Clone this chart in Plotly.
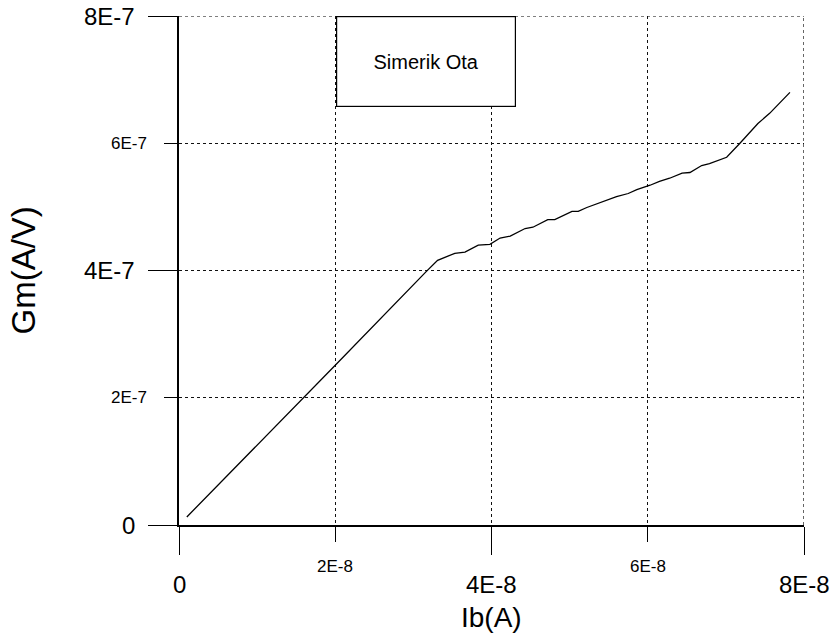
import plotly.graph_objects as go

# Data
ib = [1.0e-9, 1.0e-8, 2.0e-8, 3.17e-8, 3.31e-8, 3.53e-8, 3.66e-8, 3.83e-8, 3.98e-8,
      4.11e-8, 4.24e-8, 4.43e-8, 4.53e-8, 4.72e-8, 4.81e-8, 5.03e-8, 5.11e-8,
      5.22e-8, 5.39e-8, 5.60e-8, 5.75e-8, 5.86e-8, 6.03e-8, 6.15e-8, 6.28e-8,
      6.44e-8, 6.54e-8, 6.69e-8, 6.79e-8, 7.01e-8, 7.18e-8, 7.41e-8, 7.56e-8, 7.82e-8]
gm = [1.26e-8, 1.25e-7, 2.51e-7, 3.99e-7, 4.16e-7, 4.27e-7, 4.29e-7, 4.40e-7, 4.41e-7,
      4.51e-7, 4.54e-7, 4.66e-7, 4.68e-7, 4.80e-7, 4.80e-7, 4.93e-7, 4.93e-7,
      4.99e-7, 5.07e-7, 5.16e-7, 5.21e-7, 5.27e-7, 5.34e-7, 5.40e-7, 5.45e-7,
      5.53e-7, 5.54e-7, 5.65e-7, 5.68e-7, 5.78e-7, 6.00e-7, 6.31e-7, 6.47e-7, 6.80e-7]

x_major = [0, 4e-8, 8e-8]
x_major_text = ["0", "4E-8", "8E-8"]
x_minor = [2e-8, 6e-8]
x_minor_text = ["2E-8", "6E-8"]
y_major = [0, 4e-7, 8e-7]
y_major_text = ["0", "4E-7", "8E-7"]
y_minor = [2e-7, 6e-7]
y_minor_text = ["2E-7", "6E-7"]

legend_text = "Simerik Ota"
x_title = "Ib(A)"
y_title = "Gm(A/V)"

FONT = "Liberation Sans, Arial, sans-serif"
GRID = "#111"

fig = go.Figure()
fig.add_trace(go.Scatter(x=ib, y=gm, mode="lines",
                         line=dict(color="black", width=1.3),
                         showlegend=False, hoverinfo="skip"))

grid = dict(showgrid=True, gridcolor=GRID, gridwidth=1, griddash="dot")
fig.update_xaxes(range=[0, 8e-8], tickmode="array", tickvals=x_major,
                 showticklabels=False, ticks="outside", ticklen=28, tickwidth=1,
                 tickcolor="black", showline=True, linecolor="black", linewidth=1.5,
                 zeroline=False, **grid,
                 minor=dict(tickmode="array", tickvals=x_minor, ticks="outside",
                            ticklen=15, tickwidth=1, tickcolor="black",
                            showgrid=True, gridcolor=GRID, griddash="dot", gridwidth=1))
fig.update_yaxes(range=[0, 8e-7], tickmode="array", tickvals=y_major,
                 showticklabels=False, ticks="outside", ticklen=29, tickwidth=1,
                 tickcolor="black", showline=True, linecolor="black", linewidth=1.5,
                 zeroline=False, **grid,
                 minor=dict(tickmode="array", tickvals=y_minor, ticks="outside",
                            ticklen=13, tickwidth=1, tickcolor="black",
                            showgrid=True, gridcolor=GRID, griddash="dot", gridwidth=1))

# gridlines at the far ends of the axes (top and right), dotted like the grid
shapes = [
    dict(type="line", xref="paper", yref="y", x0=0, x1=1, y0=y_major[-1], y1=y_major[-1],
         line=dict(color="black", width=1.2, dash="dot"), layer="below"),
    dict(type="line", xref="x", yref="paper", x0=x_major[-1], x1=x_major[-1], y0=0, y1=1,
         line=dict(color="black", width=1.2, dash="dot"), layer="below"),
]

ann = []
for v, t in zip(x_major, x_major_text):
    ann.append(dict(x=v, y=0, xref="x", yref="paper", text=t, showarrow=False,
                    xanchor="center", yanchor="middle", yshift=-59,
                    font=dict(size=24, color="black", family=FONT)))
for v, t in zip(x_minor, x_minor_text):
    ann.append(dict(x=v, y=0, xref="x", yref="paper", text=t, showarrow=False,
                    xanchor="center", yanchor="middle", yshift=-41,
                    font=dict(size=17, color="black", family=FONT)))
for v, t in zip(y_major, y_major_text):
    ann.append(dict(x=0, y=v, xref="paper", yref="y", text=t, showarrow=False,
                    xanchor="right", yanchor="middle", xshift=-42,
                    font=dict(size=24, color="black", family=FONT)))
for v, t in zip(y_minor, y_minor_text):
    ann.append(dict(x=0, y=v, xref="paper", yref="y", text=t, showarrow=False,
                    xanchor="right", yanchor="middle", xshift=-30,
                    font=dict(size=17, color="black", family=FONT)))
# axis titles
ann.append(dict(x=0.5, y=0, xref="paper", yref="paper", text=x_title, showarrow=False,
                xanchor="center", yanchor="middle", yshift=-92,
                font=dict(size=28, color="black", family=FONT)))
ann.append(dict(x=0, y=0.5, xref="paper", yref="paper", text=y_title, showarrow=False,
                xanchor="center", yanchor="middle", xshift=-156, textangle=-90,
                font=dict(size=33, color="black", family=FONT)))
# legend box
ann.append(dict(x=0.2513, y=0.9995, xref="paper", yref="paper", text=legend_text,
                showarrow=False, xanchor="left", yanchor="top",
                width=176, height=87, bgcolor="white", bordercolor="black",
                borderwidth=1.2, align="center", valign="middle",
                font=dict(size=20, color="black", family=FONT)))

fig.update_layout(width=838, height=643, margin=dict(l=179, r=34, t=16, b=118),
                  plot_bgcolor="white", paper_bgcolor="white",
                  annotations=ann, shapes=shapes, showlegend=False)

fig.write_html("out.html")
